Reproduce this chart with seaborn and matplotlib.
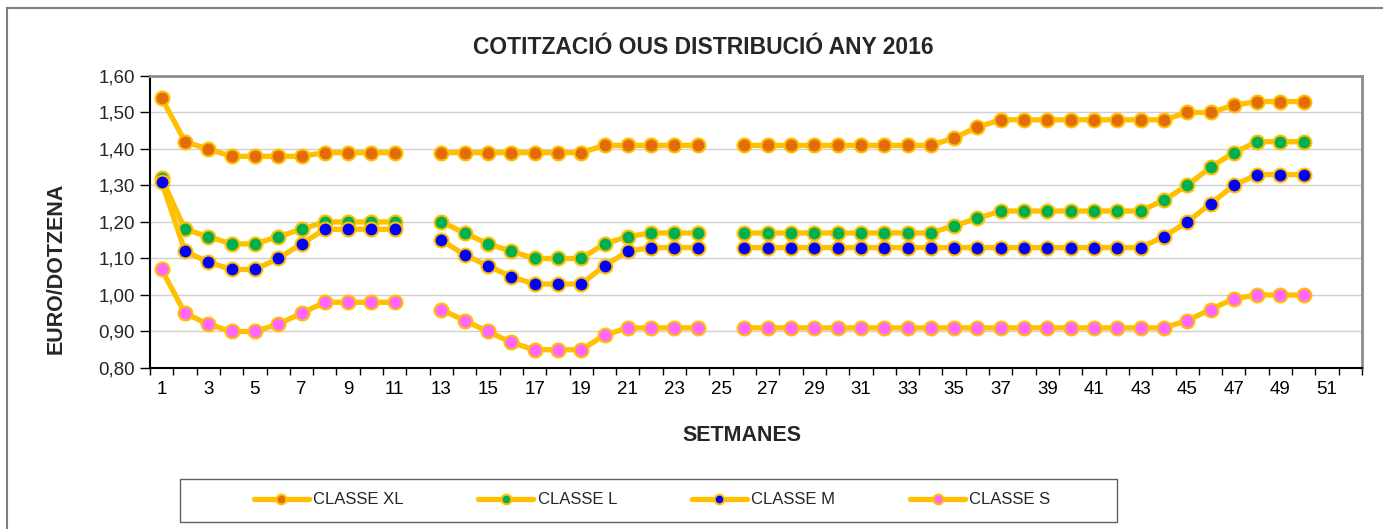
import numpy as np
import pandas as pd
import matplotlib
matplotlib.use("Agg")
import matplotlib.pyplot as plt
from matplotlib.lines import Line2D
from matplotlib.patches import Rectangle
from matplotlib.ticker import FuncFormatter, MultipleLocator
import seaborn as sns

# weeks with data (no data for weeks 12 and 25)
weeks = list(range(1, 12)) + list(range(13, 25)) + list(range(26, 51))

classe_xl = [1.54, 1.42, 1.40, 1.38, 1.38, 1.38, 1.38, 1.39, 1.39, 1.39, 1.39,
             1.39, 1.39, 1.39, 1.39, 1.39, 1.39, 1.39, 1.41, 1.41, 1.41, 1.41, 1.41,
             1.41, 1.41, 1.41, 1.41, 1.41, 1.41, 1.41, 1.41, 1.41, 1.43, 1.46, 1.48,
             1.48, 1.48, 1.48, 1.48, 1.48, 1.48, 1.48, 1.50, 1.50, 1.52, 1.53, 1.53, 1.53]
classe_l = [1.32, 1.18, 1.16, 1.14, 1.14, 1.16, 1.18, 1.20, 1.20, 1.20, 1.20,
            1.20, 1.17, 1.14, 1.12, 1.10, 1.10, 1.10, 1.14, 1.16, 1.17, 1.17, 1.17,
            1.17, 1.17, 1.17, 1.17, 1.17, 1.17, 1.17, 1.17, 1.17, 1.19, 1.21, 1.23,
            1.23, 1.23, 1.23, 1.23, 1.23, 1.23, 1.26, 1.30, 1.35, 1.39, 1.42, 1.42, 1.42]
classe_m = [1.31, 1.12, 1.09, 1.07, 1.07, 1.10, 1.14, 1.18, 1.18, 1.18, 1.18,
            1.15, 1.11, 1.08, 1.05, 1.03, 1.03, 1.03, 1.08, 1.12, 1.13, 1.13, 1.13,
            1.13, 1.13, 1.13, 1.13, 1.13, 1.13, 1.13, 1.13, 1.13, 1.13, 1.13, 1.13,
            1.13, 1.13, 1.13, 1.13, 1.13, 1.13, 1.16, 1.20, 1.25, 1.30, 1.33, 1.33, 1.33]
classe_s = [1.07, 0.95, 0.92, 0.90, 0.90, 0.92, 0.95, 0.98, 0.98, 0.98, 0.98,
            0.96, 0.93, 0.90, 0.87, 0.85, 0.85, 0.85, 0.89, 0.91, 0.91, 0.91, 0.91,
            0.91, 0.91, 0.91, 0.91, 0.91, 0.91, 0.91, 0.91, 0.91, 0.91, 0.91, 0.91,
            0.91, 0.91, 0.91, 0.91, 0.91, 0.91, 0.91, 0.93, 0.96, 0.99, 1.00, 1.00, 1.00]

series_names = ["CLASSE XL", "CLASSE L", "CLASSE M", "CLASSE S"]
series_values = [classe_xl, classe_l, classe_m, classe_s]
face_colors = ["#E36C0A", "#00B050", "#0000FF", "#FF66FF"]
line_color = "#FFC000"

sns.set_theme(style="white")
plt.rcParams["font.family"] = ["Liberation Sans", "DejaVu Sans"]

# split into separate segments wherever a week is missing
seg = np.cumsum(np.r_[0, np.diff(weeks) > 1])

W, H = 1383, 529
fig = plt.figure(figsize=(W / 100, H / 100), dpi=100)
ax = fig.add_axes([150 / W, 1 - 368 / H, (1362 - 150) / W, (368 - 76) / H])

for name, vals, fc in zip(series_names, series_values, face_colors):
    df = pd.DataFrame({"week": weeks, "value": vals, "seg": seg})
    sns.lineplot(data=df, x="week", y="value", units="seg", estimator=None,
                 color=line_color, linewidth=3.8, marker="o", markersize=10,
                 markerfacecolor=fc, markeredgecolor=line_color,
                 markeredgewidth=1.5, ax=ax, legend=False)

ax.set_xlim(0.5, 52.5)
ax.set_ylim(0.80, 1.60)
ax.set_xticks(range(1, 52, 2))
ax.xaxis.set_minor_locator(MultipleLocator(1, offset=0.5))
ax.yaxis.set_major_locator(MultipleLocator(0.1))
ax.yaxis.set_major_formatter(FuncFormatter(lambda v, p: f"{v:.2f}".replace(".", ",")))
ax.tick_params(axis="x", which="major", length=0, labelsize=13.5, pad=9, colors="black")
ax.tick_params(axis="x", which="minor", length=5, width=1, color="black", direction="out", bottom=True)
ax.tick_params(axis="y", which="major", length=7, width=1, color="black", labelsize=13.5,
               direction="out", left=True, pad=4)
ax.grid(axis="y", color="#D0D0D0", linewidth=1)
ax.set_axisbelow(True)

for side in ["left", "bottom"]:
    ax.spines[side].set_color("black")
    ax.spines[side].set_linewidth(1.5)
for side in ["top", "right"]:
    ax.spines[side].set_color("#8C8C8C")
    ax.spines[side].set_linewidth(2)

ax.set_xlabel("SETMANES", fontsize=15.5, fontweight="bold")
ax.set_ylabel("EURO/DOTZENA", fontsize=15.5, fontweight="bold")
ax.xaxis.set_label_coords((742 - 150) / 1212, (368 - 425) / 292)
ax.yaxis.set_label_coords((67 - 150) / 1212, (368 - 268) / 292)
fig.text(703 / W, 1 - 47 / H, "COTITZACIÓ OUS DISTRIBUCIÓ ANY 2016",
         ha="center", va="center", fontsize=16.5, fontweight="bold")

# outer chart frame
fig.patches.append(Rectangle((7 / W, -0.01), 1.05, 1 - 8 / H + 0.01,
                             transform=fig.transFigure, fill=False,
                             edgecolor="#808080", linewidth=1.5))
# legend box
fig.patches.append(Rectangle((180 / W, 1 - 522 / H), (1117 - 180) / W, 43 / H,
                             transform=fig.transFigure, fill=False,
                             edgecolor="#606060", linewidth=1))

handles = [Line2D([0], [0], color=line_color, linewidth=3.8, marker="o", markersize=7,
                  markerfacecolor=fc, markeredgecolor=line_color, markeredgewidth=1.5)
           for fc in face_colors]
fig.legend(handles, series_names, loc="center",
           bbox_to_anchor=(652 / W, 1 - 500 / H), ncol=4, fontsize=12,
           frameon=False, handlelength=3.3, columnspacing=4.5, handletextpad=0.25)

fig.savefig("out.png", dpi=100)
